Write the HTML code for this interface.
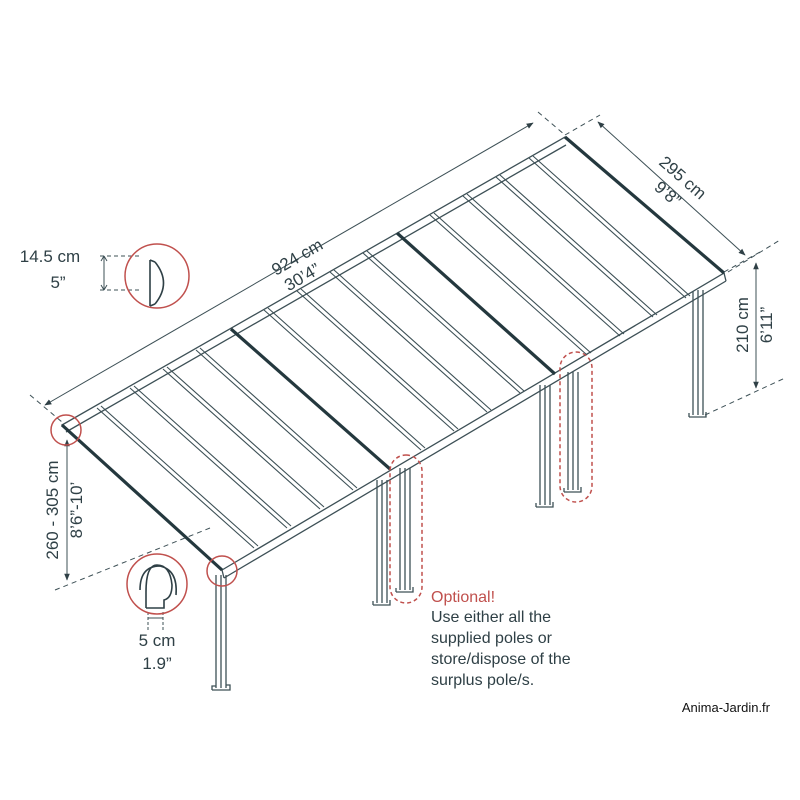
<!DOCTYPE html>
<html><head><meta charset="utf-8"><style>
body{margin:0;background:#fff;}
svg{display:block}
text{font-family:"Liberation Sans","DejaVu Sans",sans-serif;fill:#2f4046;}
</style></head><body>
<svg width="800" height="800" viewBox="0 0 800 800" xmlns="http://www.w3.org/2000/svg">
<defs>
<marker id="ar" viewBox="0 0 10 10" refX="9" refY="5" markerWidth="7" markerHeight="7" orient="auto-start-reverse"><path d="M0,1 L10,5 L0,9 z" fill="#2f4046"/></marker>
<g id="pole"><rect x="0" y="0" width="9" height="1" fill="none"/></g>
</defs>
<g stroke="#3d5056" fill="none" stroke-width="1.3">
<!-- poles -->
<g id="poles">
<path d="M216,575 V688 M221,575 V688 M226,575 V688"/>
<path d="M212,690 h18 v-5 h-4 M212,690 v-4 h4"/>
<path d="M377,480 V603 M382,480 V603 M387,480 V603"/>
<path d="M373,605 h17 v-5 M373,605 v-4"/>
<path d="M400,468 V590 M405,468 V590 M410,468 V590"/>
<path d="M396,592 h17 v-5 M396,592 v-4"/>
<path d="M540,385 V505 M545,385 V505 M550,385 V505"/>
<path d="M536,507 h17 v-5 M536,507 v-4"/>
<path d="M568,372 V490 M573,372 V490 M578,372 V490"/>
<path d="M564,492 h17 v-5 M564,492 v-4"/>
<path d="M693,290 V415 M698,290 V415 M703,290 V415"/>
<path d="M689,417 h17 v-5 M689,417 v-4"/>
</g>
<!-- roof outline -->
<polygon points="62,425 565,137 724,273 222,570" fill="#fff"/>
<path d="M66,432 L566,145"/>
<path d="M224,578 L726,281"/>
<path d="M222,570 L224,578 M724,273 L726,281"/>
<!-- ribs -->
<g stroke-width="1.1">
<path d="M97,408 L254,548 M101,406 L258,546"/>
<path d="M130,388 L287,528 M134,386 L291,526"/>
<path d="M163,369 L320,509 M167,367 L324,507"/>
<path d="M196,350 L353,490 M200,348 L357,488"/>
<path d="M264,310 L421,450 M268,308 L425,448"/>
<path d="M297,291 L454,431 M301,289 L458,429"/>
<path d="M330,272 L487,412 M334,270 L491,410"/>
<path d="M363,253 L520,393 M367,251 L524,391"/>
<path d="M430,215 L587,355 M434,213 L591,353"/>
<path d="M463,196 L620,336 M467,194 L624,334"/>
<path d="M496,177 L653,317 M500,175 L657,315"/>
<path d="M529,158 L686,298 M533,156 L690,296"/>
</g>
<!-- dark beams -->
<g stroke="#24383e" stroke-width="3.2">
<path d="M62,425 L222,570"/>
<path d="M231,329 L390,469"/>
<path d="M397,233 L555,374"/>
<path d="M565,137 L724,273"/>
</g>
</g>
<!-- dimension lines -->
<g stroke="#3d5056" stroke-width="1" fill="none">
<path d="M40,400 L545,112" stroke-dasharray="5,4" opacity="0"/>
<path d="M45,405 L533,123" marker-start="url(#ar)" marker-end="url(#ar)"/>
<path d="M30,395 L62,422 M538,112 L565,135" stroke-dasharray="5,4"/>
<path d="M598,122 L745,255" marker-start="url(#ar)" marker-end="url(#ar)"/>
<path d="M565,135 L600,115 M724,272 L760,252" stroke-dasharray="5,4"/>
<path d="M756,263 V388" marker-start="url(#ar)" marker-end="url(#ar)"/>
<path d="M728,272 L780,240 M705,415 L785,378" stroke-dasharray="5,4"/>
<path d="M67,440 V580" marker-start="url(#ar)" marker-end="url(#ar)"/>
<path d="M55,590 L210,528" stroke-dasharray="5,4"/>
<path d="M104,256 V290 M104,256 l-3,5 M104,256 l3,5 M104,290 l-3,-5 M104,290 l3,-5"/>
<path d="M100,256 H140 M100,290 H140" stroke-dasharray="4,3"/>
<path d="M148,612 V630 M163,612 V630" stroke-dasharray="3,2"/>
<path d="M148,618 H163"/>
</g>
<!-- red circles -->
<g stroke="#c0504d" stroke-width="1.5" fill="none">
<circle cx="66" cy="430" r="15"/>
<circle cx="222" cy="571" r="15"/>
<circle cx="157" cy="276" r="32"/>
<circle cx="157" cy="584" r="30"/>
<rect x="390" y="455" width="32" height="148" rx="16" stroke-dasharray="4,3"/>
<rect x="560" y="352" width="32" height="150" rx="16" stroke-dasharray="4,3"/>
</g>
<!-- detail icons -->
<g stroke="#2f4046" stroke-width="1.6" fill="none">
<path d="M150,260 L150,306 M155,262 Q172,283 155,304 M150,260 L155,262 M150,306 L155,304"/>
<path d="M146,608 V592 Q146,565 157,565 Q170,565 172,585 Q172,598 164,600 V608 H146 M140,590 Q140,566 160,566 Q178,570 176,595"/>
</g>
<!-- text -->
<text x="300" y="262" font-size="17" transform="rotate(-30 300 262)" text-anchor="middle">924 cm</text>
<text x="305" y="282" font-size="17" transform="rotate(-30 305 282)" text-anchor="middle">30’4”</text>
<text x="679" y="182" font-size="17" transform="rotate(41 679 182)" text-anchor="middle">295 cm</text>
<text x="664" y="198" font-size="17" transform="rotate(41 664 198)" text-anchor="middle">9’8”</text>
<text x="748" y="325" font-size="17" transform="rotate(-90 748 325)" text-anchor="middle">210 cm</text>
<text x="772" y="325" font-size="17" transform="rotate(-90 772 325)" text-anchor="middle">6’11”</text>
<text x="58" y="510" font-size="17" transform="rotate(-90 58 510)" text-anchor="middle">260 - 305 cm</text>
<text x="82" y="510" font-size="17" transform="rotate(-90 82 510)" text-anchor="middle">8’6”-10’</text>
<text x="50" y="262" font-size="17" text-anchor="middle">14.5 cm</text>
<text x="58" y="288" font-size="17" text-anchor="middle">5”</text>
<text x="157" y="646" font-size="17" text-anchor="middle">5 cm</text>
<text x="157" y="669" font-size="17" text-anchor="middle">1.9”</text>
<text x="431" y="602" font-size="16" style="fill:#c0504d">Optional!</text>
<text x="431" y="622" font-size="16">Use either all the</text>
<text x="431" y="643" font-size="16">supplied poles or</text>
<text x="431" y="664" font-size="16">store/dispose of the</text>
<text x="431" y="685" font-size="16">surplus pole/s.</text>
<text x="770" y="712" font-size="13" text-anchor="end" style="fill:#111">Anima-Jardin.fr</text>
</svg>
</body></html>
